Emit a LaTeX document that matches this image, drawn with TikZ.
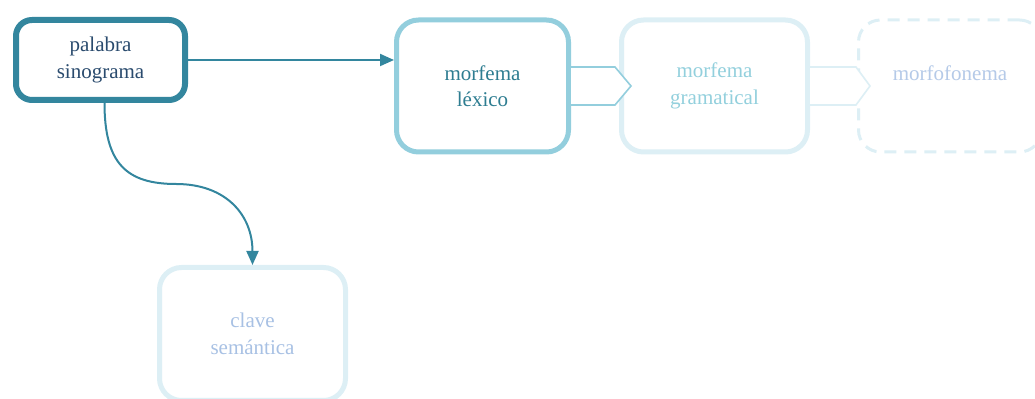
\documentclass[tikz,border=0pt]{standalone}
\usepackage{fontspec}
\setmainfont{Liberation Serif}
\usepackage{tikz}
\usepackage{xcolor}
\usetikzlibrary{arrows.meta,positioning,calc}
\definecolor{Teal}{HTML}{33869E}
\definecolor{Navy}{HTML}{2A4B6E}
\definecolor{Sky}{HTML}{93CEDD}
\definecolor{SkyText}{HTML}{2E7D91}
\definecolor{Pale}{HTML}{DDEFF5}
\definecolor{PaleText}{HTML}{93D0DD}
\definecolor{Lilac}{HTML}{A8C1E4}

\begin{document}
\begin{tikzpicture}[x=0.5pt,y=-0.5pt,
    box/.style={draw,rounded corners=11pt,fill=white,align=center,inner sep=0pt,
      font=\fontsize{10.5}{13.2}\selectfont,minimum height=66pt},
    link/.style={Teal,line width=1pt,-{Triangle[length=7pt,width=6pt]}},
    chev/.style={line width=0.8pt,fill=white,line join=miter}]
  \useasboundingbox (0,0) rectangle (1035,399);
  % boxes
  \node[box,draw=Teal,line width=3pt,rounded corners=8pt,text=Navy,minimum width=84.5pt,minimum height=40pt] (pal) at (100.5,60) {palabra\\sinograma};
  \node[box,draw=Sky,line width=2.5pt,text=SkyText,minimum width=86pt] (lex) at (482.5,86) {morfema\\léxico};
  \node[box,draw=Pale,line width=2.5pt,text=PaleText,minimum width=93pt] (gram) at (714.5,86) {morfema\\gramatical};
  \node[box,draw=Pale,line width=1.5pt,dash pattern=on 6pt off 4pt,text=Lilac!85,minimum width=91.5pt] (fon) at (950,86) {morfofonema\\\phantom{x}};
  \node[box,draw=Pale,line width=2.5pt,text=Lilac,minimum width=93pt,minimum height=66.5pt] (clave) at (252.5,334) {clave\\semántica};
  % chevrons between the morphemes
  \draw[chev,draw=Sky] ($(lex.east)+(0,-19)$) -- ++(44,0) -- ++(16,19) -- ++(-16,19) -- ($(lex.east)+(0,19)$);
  \draw[chev,draw=Pale] ($(gram.east)+(0,-19)$) -- ++(46,0) -- ++(14,19) -- ++(-14,19) -- ($(gram.east)+(0,19)$);
  % links
  \draw[link] (pal.east) -- (pal.east -| lex.west);
  \coordinate (bend) at (176,184);
  \draw[link] ([xshift=2pt]pal.south) .. controls +(0,60) and +(-50,0) .. (bend)
    .. controls +(50,0) and +(0,-50) .. (clave.north);
\end{tikzpicture}
\end{document}
